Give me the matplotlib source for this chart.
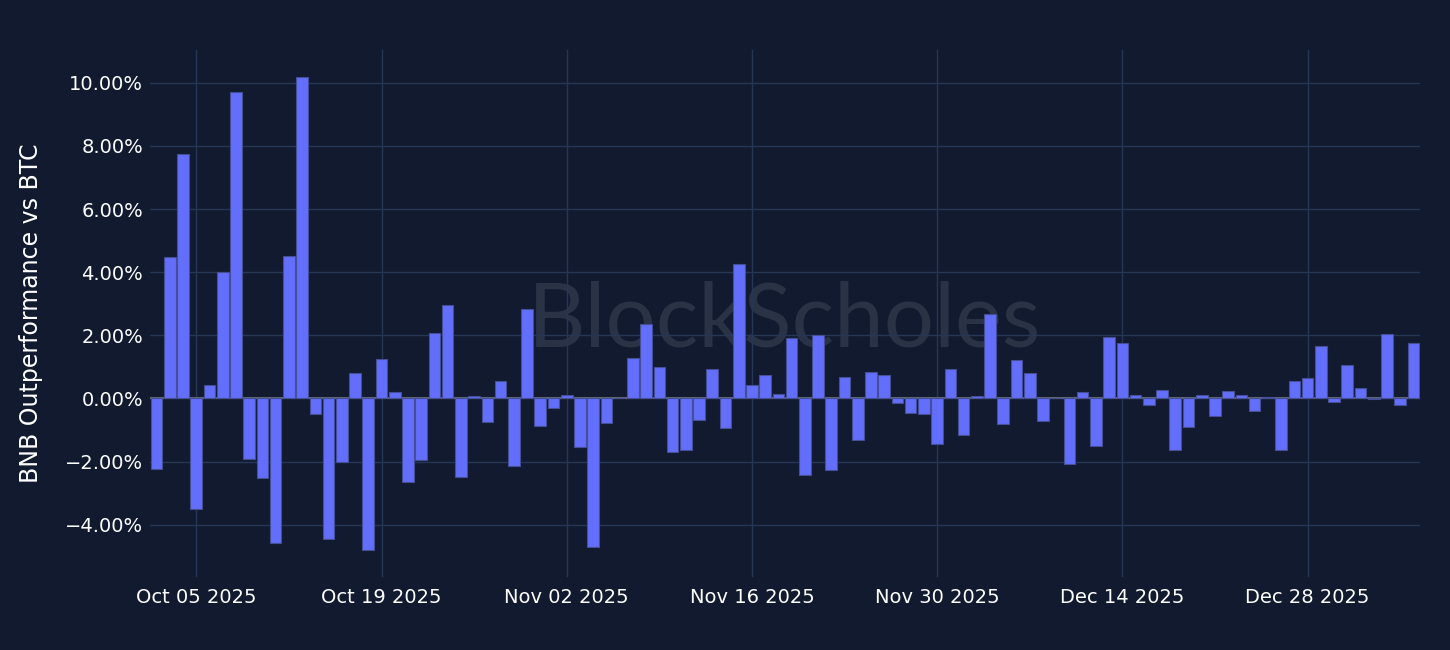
import matplotlib.pyplot as plt
import matplotlib.dates as mdates
from matplotlib.ticker import FuncFormatter
import numpy as np
import pandas as pd

# daily BNB outperformance vs BTC, in percent
dates = pd.date_range("2025-10-02", "2026-01-05", freq="D")
values = [
    -2.25, 4.48, 7.76, -3.52, 0.44, 4.02, 9.70, -1.91, -2.53, -4.57,
    4.51, 10.20, -0.48, -4.47, -2.00, 0.79, -4.80, 1.26, 0.19, -2.65,
    -1.96, 2.06, 2.95, -2.48, 0.08, -0.74, 0.55, -2.15, 2.83, -0.89,
    -0.30, 0.10, -1.55, -4.71, -0.78, 0.02, 1.27, 2.35, 0.98, -1.71,
    -1.65, -0.67, 0.93, -0.95, 4.26, 0.42, 0.75, 0.14, 1.92, -2.44,
    2.00, -2.26, 0.69, -1.33, 0.84, 0.74, -0.16, -0.46, -0.51, -1.43,
    0.92, -1.16, 0.07, 2.69, -0.81, 1.21, 0.80, -0.73, 0.01, -2.09,
    0.20, -1.50, 1.95, 1.75, 0.12, -0.20, 0.25, -1.64, -0.90, 0.11,
    -0.55, 0.23, 0.11, -0.40, 0.03, -1.62, 0.56, 0.65, 1.65, -0.12,
    1.07, 0.32, -0.01, 2.04, -0.21, 1.77,
]
tick_dates = pd.date_range("2025-10-05", "2025-12-28", freq="14D")
yticks = [-4, -2, 0, 2, 4, 6, 8, 10]

bg = "#111a2e"
grid = "#263756"
bar_color = "#636efa"

fig = plt.figure(figsize=(14.5, 6.5), dpi=100, facecolor=bg)
ax = fig.add_axes([150 / 1450, 1 - 577 / 650, 1270 / 1450, 527 / 650])
ax.set_facecolor(bg)

# watermark
ax.text(0.5, 0.485, "BlockScholes", transform=ax.transAxes, ha="center", va="center",
        fontsize=64, color="#2a3346", family="Lato", zorder=0.5)

ax.axhline(0, color="#5f6673", lw=1.5, zorder=1)
ax.bar(dates, values, width=0.88, color=bar_color, edgecolor="#454f95",
       linewidth=0.8, zorder=2)

ax.set_xlim(dates[0] - pd.Timedelta(hours=12), dates[-1] + pd.Timedelta(hours=12))
ax.set_ylim(-5.66, 11.04)
ax.set_xticks(tick_dates)
ax.xaxis.set_major_formatter(mdates.DateFormatter("%b %d %Y"))
ax.set_yticks(yticks)
ax.yaxis.set_major_formatter(FuncFormatter(lambda v, p: f"{v:.2f}%".replace("-", "\u2212")))

ax.grid(True, color=grid, lw=1, zorder=0)
ax.set_axisbelow(True)
for s in ax.spines.values():
    s.set_visible(False)
ax.tick_params(length=0, colors="white", labelsize=14, pad=5)
ax.tick_params(axis="x", pad=8)

ax.set_ylabel("BNB Outperformance vs BTC", color="white", fontsize=17)
ax.yaxis.set_label_coords(-0.0843, 0.5)

fig.savefig("out.png", facecolor=bg)
